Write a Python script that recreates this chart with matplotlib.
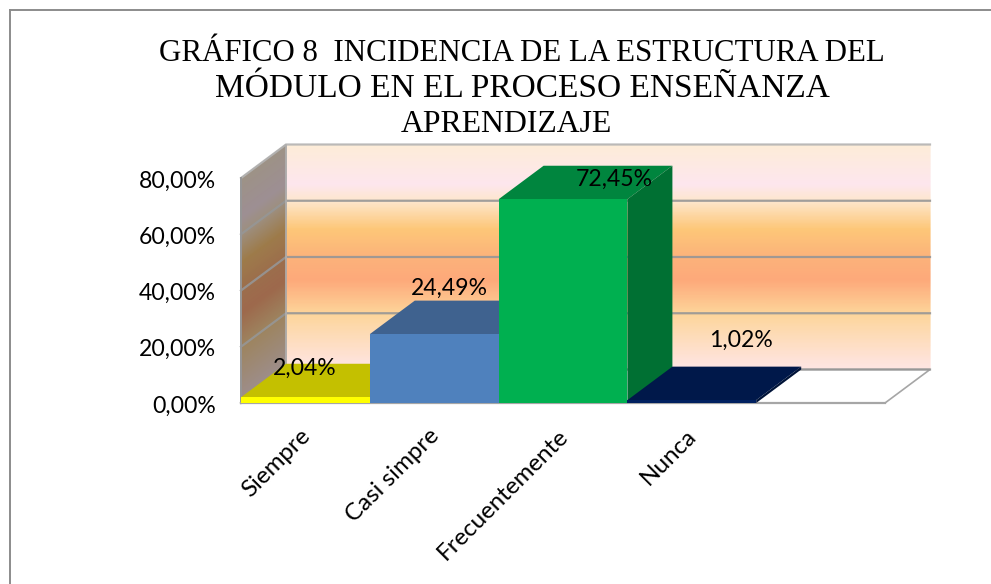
import numpy as np
import matplotlib
matplotlib.use("Agg")
import matplotlib.pyplot as plt
from matplotlib.colors import LinearSegmentedColormap, to_rgb
from matplotlib.patches import Polygon, Rectangle
from matplotlib.lines import Line2D
from matplotlib.transforms import ScaledTranslation

categories = ["Siempre", "Casi simpre", "Frecuentemente", "Nunca"]
values = [2.04, 24.49, 72.45, 1.02]
value_labels = ["2,04%", "24,49%", "72,45%", "1,02%"]
y_ticks = [0, 20, 40, 60, 80]
y_tick_labels = ["0,00%", "20,00%", "40,00%", "60,00%", "80,00%"]
title_lines = ["GRÁFICO 8  INCIDENCIA DE LA ESTRUCTURA DEL", "MÓDULO EN EL PROCESO ENSEÑANZA", "APRENDIZAJE"]
slots = 5

front_colors = ["#FFFF00", "#4F81BD", "#00B050", "#002060"]
top_colors = ["#C4C000", "#3F628F", "#00853E", "#00184A"]
side_colors = ["#A8A600", "#37567D", "#007033", "#001338"]

W, H = 991, 584
fig = plt.figure(figsize=(W / 100, H / 100), dpi=100, facecolor="white")
L, R, B, T = 241, 885, 403, 178
ax = fig.add_axes([L / W, (H - B) / H, (R - L) / W, (B - T) / H])
ax.set_xlim(0, slots)
ax.set_ylim(0, y_ticks[-1])
ax.patch.set_visible(False)
for s in ax.spines.values():
    s.set_visible(False)

dx = 45 / ((R - L) / slots)
dy = 33.5 / ((B - T) / y_ticks[-1])

stops = [(0.0, "#FDECD8"), (0.175, "#FDE6EE"), (0.25, "#FDE6CC"), (0.375, "#FDC778"),
         (0.50, "#FCB27A"), (0.60, "#FDA97A"), (0.75, "#FDD59A"), (0.98, "#FEE4E0"), (1.0, "#FEE4E0")]
cmap = LinearSegmentedColormap.from_list("wall", stops)
side_stops = [(p, tuple(0.62 * c for c in to_rgb(col))) for p, col in stops]
side_cmap = LinearSegmentedColormap.from_list("side", side_stops)
top = y_ticks[-1]

# back wall
vv = np.linspace(0, top, 200)
uu = np.array([0, slots])
X, Y = np.meshgrid(uu + dx, vv + dy)
ax.pcolormesh(X, Y, (1 - vv / top)[:, None].repeat(2, 1), cmap=cmap, vmin=0, vmax=1,
              shading="gouraud", clip_on=False, zorder=1)
# side wall
dd = np.array([0, 1.0])
X2 = np.tile(dd * dx, (200, 1))
Y2 = vv[:, None] + dd * dy
ax.pcolormesh(X2, Y2, (1 - vv / top)[:, None].repeat(2, 1), cmap=side_cmap, vmin=0, vmax=1,
              shading="gouraud", clip_on=False, zorder=1)
# floor
ax.add_patch(Polygon([(0, 0), (slots, 0), (slots + dx, dy), (dx, dy)], fc="white", ec="#A6A6A6", lw=1.2,
                     clip_on=False, zorder=1.5))
# gridlines
grid = "#969696"
for t in y_ticks:
    ax.plot([0, dx, slots + dx], [t, t + dy, t + dy], color=grid if t < top else "#B4B4B4", lw=1.6,
            clip_on=False, zorder=2, alpha=0.9, solid_joinstyle="miter")
ax.plot([0, 0], [0, top], color=grid, lw=1.4, clip_on=False, zorder=2)
ax.plot([dx, dx], [dy, top + dy], color="#B0B0B0", lw=1.2, clip_on=False, zorder=2)
ax.plot([0, slots], [0, 0], color="#A6A6A6", lw=1.6, clip_on=False, zorder=2)

# bars: later bars cover the tops of earlier ones
for i, v in enumerate(values):
    ax.add_patch(Polygon([(i, v), (i + 1, v), (i + 1 + dx, v + dy), (i + dx, v + dy)],
                         fc=top_colors[i], ec="none", clip_on=False, zorder=3 + i * 0.1))
    ax.add_patch(Polygon([(i + 1, 0), (i + 1 + dx, dy), (i + 1 + dx, v + dy), (i + 1, v)],
                         fc=side_colors[i], ec="none", clip_on=False, zorder=3 + i * 0.1))
    ax.add_patch(Rectangle((i, 0), 1, v, fc=front_colors[i], ec="none", clip_on=False, zorder=3.05 + i * 0.1))

font = "Lato"
fs = 16.6
label_offsets = [(0.497, 10.4), (0.615, 16.4), (0.90, 7.2), (0.88, 21.4)]
for i, (lab, v) in enumerate(zip(value_labels, values)):
    ox, oy = label_offsets[i]
    ax.text(i + ox, v + oy, lab, fontsize=fs, family=font, color="black", ha="center", va="center",
            zorder=6, clip_on=False)

ax.set_yticks(y_ticks)
ax.set_yticklabels(y_tick_labels, fontsize=fs, family=font, color="black")
ax.tick_params(axis="y", length=0, pad=18)
ax.set_xticks(np.arange(len(categories)) + 0.5)
ax.set_xticklabels(categories, fontsize=17.4, family=font, color="black", rotation=45, ha="right",
                   rotation_mode="anchor")
ax.tick_params(axis="x", length=0, pad=16)
for lab in ax.get_xticklabels():
    lab.set_transform(lab.get_transform() + ScaledTranslation(-6 / 100, 0, fig.dpi_scale_trans))
for lab in ax.get_yticklabels():
    lab.set_transform(lab.get_transform() + ScaledTranslation(0, -1 / 100, fig.dpi_scale_trans))

title_x = [522, 522, 506]
title_base = [61, 97, 132]
title_size = [22.2, 24.0, 22.9]
for line, tx, ty, ts in zip(title_lines, title_x, title_base, title_size):
    fig.text(tx / W, 1 - ty / H, line, fontsize=ts, family="Liberation Serif", color="black",
             ha="center", va="baseline", zorder=7)

border = "#8C8C8C"
for xs, ys in [((10, 10), (10, 584)), ((10, 991), (10, 10))]:
    fig.add_artist(Line2D([x / W for x in xs], [1 - y / H for y in ys], transform=fig.transFigure,
                          color=border, lw=1.4))
fig.savefig("out.png", dpi=100, facecolor="white")
